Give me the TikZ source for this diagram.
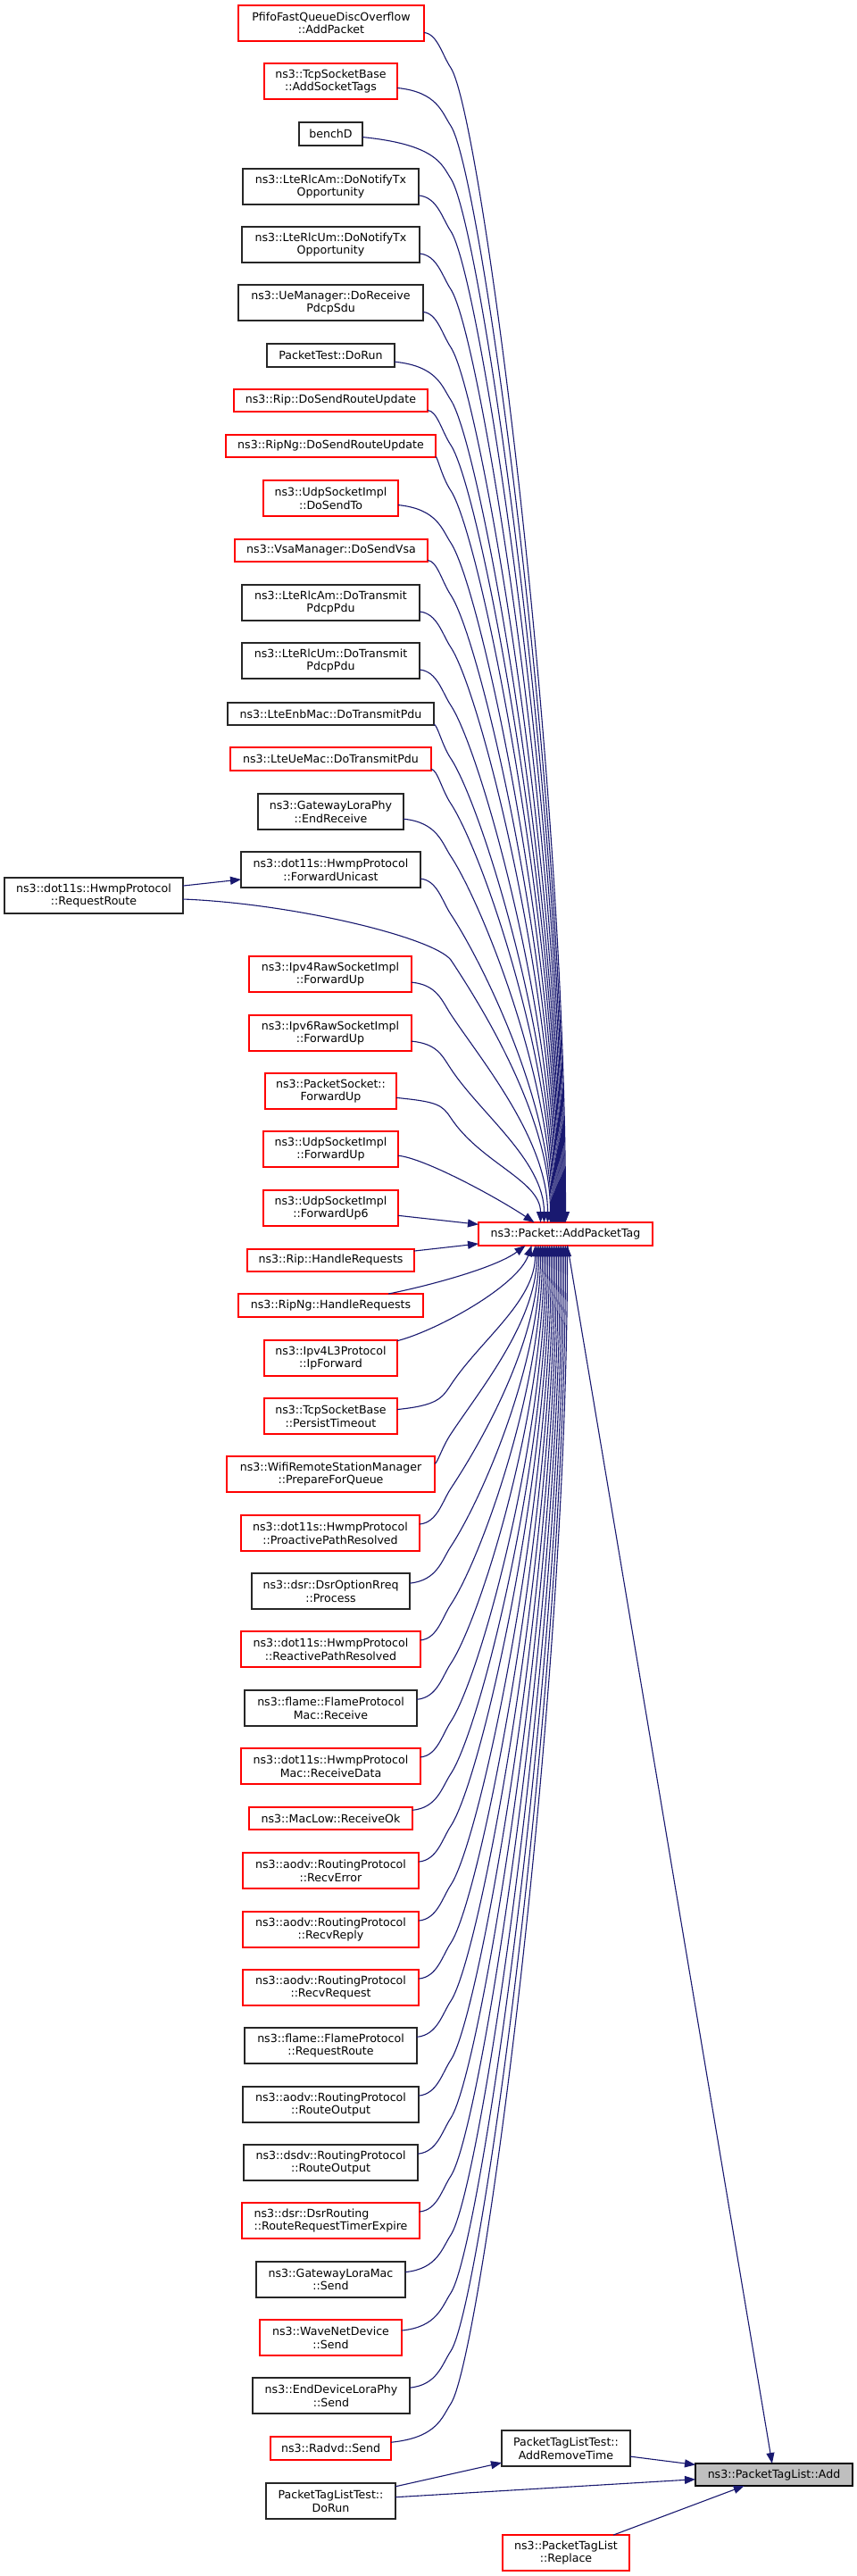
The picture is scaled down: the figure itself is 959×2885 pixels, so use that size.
\documentclass[tikz,border=0pt]{standalone}
\usepackage{fontspec}
\setmainfont{DejaVu Sans}
\usetikzlibrary{arrows.meta,calc}
\definecolor{edgecol}{HTML}{191970}
\definecolor{boxgrey}{HTML}{BFBFBF}
\newcommand\mynode[7]{%
  \node[#6, minimum width={#4pt-#2pt}, minimum height={#5pt-#3pt}] (#1) at ({(#2+#4)/2},{(#3+#5)/2}) {#7};}
\newcommand\topedge[3]{%
  \path (#1.center -| bx) coordinate (q#1)
        ($(q#1)+(0,#3)$) coordinate (w#1)
        ($(apt.north)+(#2,0)$) coordinate (t#1);
  \path (t#1 |- w#1) coordinate (u#1);
  \draw[edge] (#1) .. controls ($(q#1)+(-15,12)$) and ($(w#1)+(-10,-15)$) .. (w#1)
     .. controls ($(w#1)+(33,50)$) and ($(t#1)!0.4!(u#1)$) .. (t#1);}
\newcommand\botedge[3]{%
  \path (#1.center -| bx) coordinate (q#1)
        ($(q#1)+(0,-#3)$) coordinate (w#1)
        ($(apt.south)+(#2,0)$) coordinate (t#1);
  \path (t#1 |- w#1) coordinate (u#1);
  \draw[edge] (#1) .. controls ($(q#1)+(-15,-12)$) and ($(w#1)+(-10,15)$) .. (w#1)
     .. controls ($(w#1)+(33,-50)$) and ($(t#1)!0.4!(u#1)$) .. (t#1);}
\begin{document}
\begin{tikzpicture}[x=1pt,y=-1pt,
  nbase/.style={draw, fill=white, inner sep=0pt, outer sep=0pt, align=center,
    line width=1.1pt, font=\fontsize{12.6}{14.6}\selectfont},
  rbox/.style={nbase, draw=red},
  kbox/.style={nbase, draw=black!85},
  root/.style={nbase, draw=black, fill=boxgrey},
  edge/.style={draw=edgecol, line width=1.1pt, -{Triangle[length=12pt,width=9pt]}}]
\fill[white] (0,0) rectangle (959,2885);
\useasboundingbox (0,0) rectangle (959,2885);
\coordinate (bx) at (505,0);

\mynode{pfifo}{267}{6}{475}{46}{rbox}{PfifoFastQueueDiscOverflow\\::AddPacket}
\mynode{tcpast}{296}{71}{445}{111}{rbox}{ns3::TcpSocketBase\\::AddSocketTags}
\mynode{benchD}{335}{137}{406}{163}{kbox}{benchD}
\mynode{rlcamnt}{272}{189}{469}{229}{kbox}{ns3::LteRlcAm::DoNotifyTx\\Opportunity}
\mynode{rlcumnt}{271}{254}{470}{294}{kbox}{ns3::LteRlcUm::DoNotifyTx\\Opportunity}
\mynode{uemgr}{267}{319}{474}{359}{kbox}{ns3::UeManager::DoReceive\\PdcpSdu}
\mynode{pktdorun}{299}{385}{442}{411}{kbox}{PacketTest::DoRun}
\mynode{ripsend}{262}{436}{479}{461}{rbox}{ns3::Rip::DoSendRouteUpdate}
\mynode{ripngsend}{253}{487}{488}{512}{rbox}{ns3::RipNg::DoSendRouteUpdate}
\mynode{udpsendto}{295}{538}{446}{578}{rbox}{ns3::UdpSocketImpl\\::DoSendTo}
\mynode{vsa}{263}{604}{479}{629}{rbox}{ns3::VsaManager::DoSendVsa}
\mynode{rlcamtx}{271}{655}{470}{695}{kbox}{ns3::LteRlcAm::DoTransmit\\PdcpPdu}
\mynode{rlcumtx}{271}{720}{470}{760}{kbox}{ns3::LteRlcUm::DoTransmit\\PdcpPdu}
\mynode{enbmac}{255}{787}{486}{812}{kbox}{ns3::LteEnbMac::DoTransmitPdu}
\mynode{uemac}{258}{837}{483}{863}{rbox}{ns3::LteUeMac::DoTransmitPdu}
\mynode{gwphy}{289}{889}{452}{929}{kbox}{ns3::GatewayLoraPhy\\::EndReceive}
\mynode{fwduni}{270}{954}{471}{994}{kbox}{ns3::dot11s::HwmpProtocol\\::ForwardUnicast}
\mynode{reqroute}{5}{983}{205}{1023}{kbox}{ns3::dot11s::HwmpProtocol\\::RequestRoute}
\mynode{ipv4raw}{279}{1071}{461}{1111}{rbox}{ns3::Ipv4RawSocketImpl\\::ForwardUp}
\mynode{ipv6raw}{279}{1137}{461}{1177}{rbox}{ns3::Ipv6RawSocketImpl\\::ForwardUp}
\mynode{pktsock}{297}{1202}{444}{1242}{rbox}{ns3::PacketSocket::\\ForwardUp}
\mynode{udpfwd}{295}{1267}{446}{1307}{rbox}{ns3::UdpSocketImpl\\::ForwardUp}
\mynode{udpfwdsix}{295}{1333}{446}{1373}{rbox}{ns3::UdpSocketImpl\\::ForwardUp6}
\mynode{riphr}{277}{1399}{464}{1424}{rbox}{ns3::Rip::HandleRequests}
\mynode{ripnghr}{267}{1449}{474}{1475}{rbox}{ns3::RipNg::HandleRequests}
\mynode{ipfwd}{296}{1501}{445}{1541}{rbox}{ns3::Ipv4L3Protocol\\::IpForward}
\mynode{persist}{296}{1566}{445}{1606}{rbox}{ns3::TcpSocketBase\\::PersistTimeout}
\mynode{wifi}{254}{1631}{487}{1671}{rbox}{ns3::WifiRemoteStationManager\\::PrepareForQueue}
\mynode{proact}{270}{1697}{470}{1737}{rbox}{ns3::dot11s::HwmpProtocol\\::ProactivePathResolved}
\mynode{dsrrreq}{282}{1762}{459}{1802}{kbox}{ns3::dsr::DsrOptionRreq\\::Process}
\mynode{react}{270}{1827}{471}{1867}{rbox}{ns3::dot11s::HwmpProtocol\\::ReactivePathResolved}
\mynode{flamerecv}{274}{1893}{467}{1933}{kbox}{ns3::flame::FlameProtocol\\Mac::Receive}
\mynode{hwmprecv}{270}{1958}{471}{1998}{rbox}{ns3::dot11s::HwmpProtocol\\Mac::ReceiveData}
\mynode{maclow}{279}{2024}{462}{2049}{rbox}{ns3::MacLow::ReceiveOk}
\mynode{recverr}{272}{2075}{469}{2115}{rbox}{ns3::aodv::RoutingProtocol\\::RecvError}
\mynode{recvrep}{272}{2141}{469}{2181}{rbox}{ns3::aodv::RoutingProtocol\\::RecvReply}
\mynode{recvreq}{272}{2206}{469}{2246}{rbox}{ns3::aodv::RoutingProtocol\\::RecvRequest}
\mynode{flamereq}{274}{2271}{467}{2311}{kbox}{ns3::flame::FlameProtocol\\::RequestRoute}
\mynode{aodvro}{272}{2337}{469}{2377}{kbox}{ns3::aodv::RoutingProtocol\\::RouteOutput}
\mynode{dsdvro}{273}{2402}{468}{2442}{kbox}{ns3::dsdv::RoutingProtocol\\::RouteOutput}
\mynode{dsrrt}{271}{2467}{470}{2507}{rbox,align=left}{ns3::dsr::DsrRouting\\::RouteRequestTimerExpire}
\mynode{gwmac}{287}{2533}{454}{2573}{kbox}{ns3::GatewayLoraMac\\::Send}
\mynode{wave}{291}{2598}{450}{2638}{rbox}{ns3::WaveNetDevice\\::Send}
\mynode{endphy}{283}{2663}{459}{2703}{kbox}{ns3::EndDeviceLoraPhy\\::Send}
\mynode{radvd}{303}{2729}{438}{2755}{rbox}{ns3::Radvd::Send}
\mynode{ptldorun}{298}{2781}{443}{2821}{kbox}{PacketTagListTest::\\DoRun}
\mynode{addrem}{562}{2722}{706}{2762}{kbox}{PacketTagListTest::\\AddRemoveTime}
\mynode{replace}{563}{2839}{705}{2879}{rbox}{ns3::PacketTagList\\::Replace}
\mynode{apt}{536}{1369}{731}{1395}{rbox}{ns3::Packet::AddPacketTag}
\mynode{add}{779}{2759}{955}{2784}{root}{ns3::PacketTagList::Add}

% callers above AddPacketTag
\topedge{pfifo}{0}{50}
\topedge{tcpast}{-1}{50}
\topedge{benchD}{-2}{50}
\topedge{rlcamnt}{-3}{50}
\topedge{rlcumnt}{-4}{50}
\topedge{uemgr}{-5}{50}
\topedge{pktdorun}{-6}{50}
\topedge{ripsend}{-7}{50}
\topedge{ripngsend}{-8}{50}
\topedge{udpsendto}{-9}{50}
\topedge{vsa}{-10}{50}
\topedge{rlcamtx}{-11}{50}
\topedge{rlcumtx}{-12}{50}
\topedge{enbmac}{-13}{50}
\topedge{uemac}{-14}{50}
\topedge{gwphy}{-15}{50}
\topedge{fwduni}{-16}{50}
\topedge{ipv4raw}{-20}{45}
\topedge{ipv6raw}{-24}{40}
\topedge{pktsock}{-28}{30}
\draw[edge] (reqroute) .. controls (330,1012) and (485,1050) .. (505,1075)
   .. controls (538,1125) and ($(apt.north)+(-17,-120)$) .. ($(apt.north)+(-17,0)$);
\draw[edge] (reqroute) -- (fwduni);
\draw[edge] (udpfwd) .. controls (475,1297) and (555,1340) .. ($(apt.north)+(-35,0)$);
\draw[edge] (udpfwdsix) -- (apt);
\draw[edge] (riphr) -- (apt);
% callers below AddPacketTag
\draw[edge] (ripnghr) .. controls (480,1440) and (555,1420) .. ($(apt.south)+(-45,0)$);
\draw[edge] (ipfwd) .. controls (490,1490) and (580,1440) .. ($(apt.south)+(-38,0)$);
\botedge{persist}{-34}{35}
\botedge{wifi}{-32}{45}
\botedge{proact}{-30}{50}
\botedge{dsrrreq}{-28}{50}
\botedge{react}{-26}{50}
\botedge{flamerecv}{-24}{50}
\botedge{hwmprecv}{-22}{50}
\botedge{maclow}{-20}{50}
\botedge{recverr}{-18}{50}
\botedge{recvrep}{-16}{50}
\botedge{recvreq}{-14}{50}
\botedge{flamereq}{-12}{50}
\botedge{aodvro}{-10}{50}
\botedge{dsdvro}{-8}{50}
\botedge{dsrrt}{-6}{50}
\botedge{gwmac}{-4}{50}
\botedge{wave}{-2}{50}
\botedge{endphy}{0}{50}
\botedge{radvd}{2}{50}
% PacketTagList::Add callers
\draw[edge] (apt) -- (add);
\draw[edge] (addrem) -- (add);
\draw[edge] (ptldorun) -- (add);
\draw[edge] (ptldorun) -- (addrem);
\draw[edge] (replace) -- (add);
\end{tikzpicture}
\end{document}
